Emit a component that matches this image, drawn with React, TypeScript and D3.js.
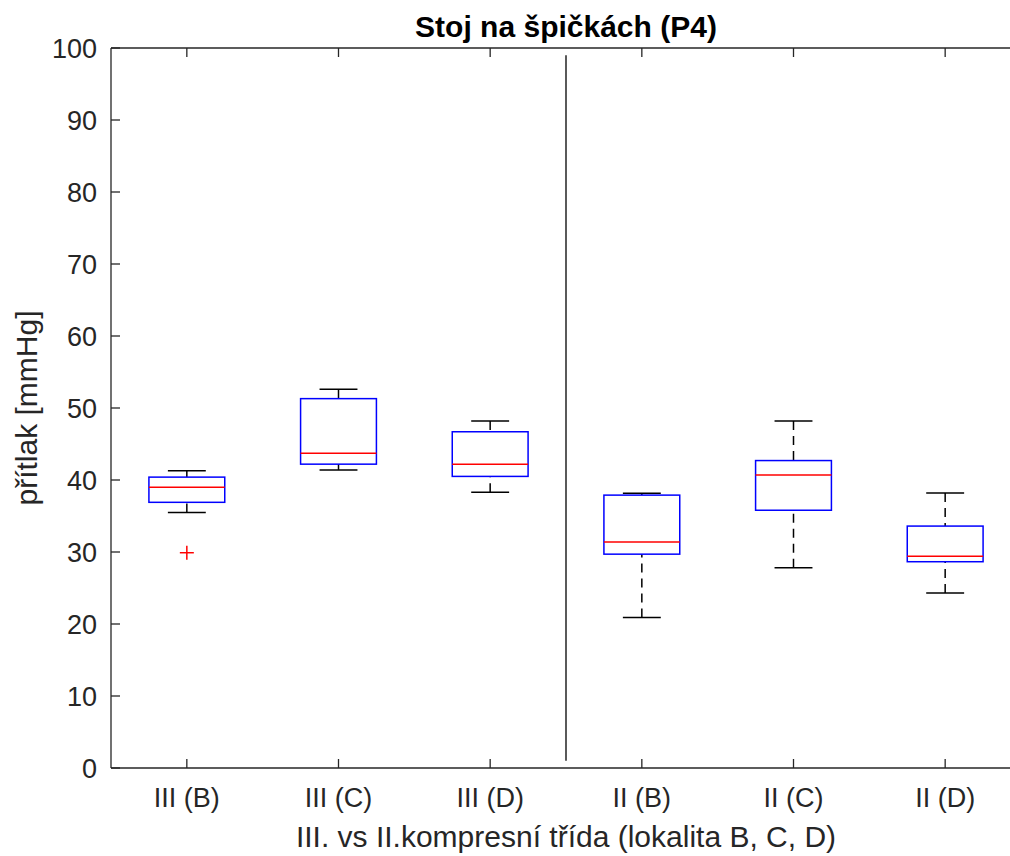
import React from "react";
import * as d3 from "d3";

const categories = ["III (B)", "III (C)", "III (D)", "II (B)", "II (C)", "II (D)"];
const whiskerLow = [35.5, 41.4, 38.3, 20.9, 27.8, 24.3];
const q1 = [36.9, 42.2, 40.5, 29.7, 35.8, 28.65];
const medians = [39.0, 43.7, 42.2, 31.4, 40.7, 29.4];
const q3 = [40.4, 51.3, 46.7, 37.9, 42.7, 33.6];
const whiskerHigh = [41.3, 52.6, 48.2, 38.15, 48.2, 38.2];
const outlierCategory = ["III (B)"];
const outlierValue = [29.9];
const yTicks = [0, 10, 20, 30, 40, 50, 60, 70, 80, 90, 100];
const separatorPos = 3.5;
const separatorRange = [1, 99];

const W = 1010;
const H = 856;
const FONT = "'Liberation Sans', Arial, Helvetica, sans-serif";
const TXT = "#262626";

export default function App() {
  const x = d3.scaleLinear().domain([0.5, 6.5]).range([111, 1021]);
  const y = d3.scaleLinear().domain([0, 100]).range([768, 48]);
  const unit = x(1) - x(0);
  const boxHalf = 0.25 * unit;
  const capHalf = 0.125 * unit;
  const tickLen = 9;
  const [x0, x1] = x.range();
  const [yb, yt] = y.range();

  return (
    <div style={{ position: "absolute", left: 0, top: 0 }}>
      <svg width={W} height={H} style={{ display: "block", background: "#fff" }}>
        <rect x={0} y={0} width={W} height={H} fill="#fff" />
        {/* separator */}
        <line
          x1={x(separatorPos)}
          x2={x(separatorPos)}
          y1={y(separatorRange[0])}
          y2={y(separatorRange[1])}
          stroke="#000"
          strokeWidth={1.3}
        />
        {/* boxes */}
        {categories.map((c, i) => {
          const cx = x(i + 1);
          return (
            <g key={c}>
              <line x1={cx} x2={cx} y1={y(whiskerHigh[i])} y2={y(q3[i])} stroke="#000" strokeWidth={1.5} strokeDasharray="9,6" />
              <line x1={cx} x2={cx} y1={y(whiskerLow[i])} y2={y(q1[i])} stroke="#000" strokeWidth={1.5} strokeDasharray="9,6" />
              <line x1={cx - capHalf} x2={cx + capHalf} y1={y(whiskerHigh[i])} y2={y(whiskerHigh[i])} stroke="#000" strokeWidth={1.5} />
              <line x1={cx - capHalf} x2={cx + capHalf} y1={y(whiskerLow[i])} y2={y(whiskerLow[i])} stroke="#000" strokeWidth={1.5} />
              <rect
                x={cx - boxHalf}
                y={y(q3[i])}
                width={2 * boxHalf}
                height={y(q1[i]) - y(q3[i])}
                fill="none"
                stroke="#0000ff"
                strokeWidth={1.5}
              />
              <line x1={cx - boxHalf} x2={cx + boxHalf} y1={y(medians[i])} y2={y(medians[i])} stroke="#ff0000" strokeWidth={1.5} />
            </g>
          );
        })}
        {outlierCategory.map((c, k) => {
          const cx = x(categories.indexOf(c) + 1);
          const cy = y(outlierValue[k]);
          const s = 7;
          return (
            <g key={"o" + k} stroke="#ff0000" strokeWidth={1.5}>
              <line x1={cx - s} x2={cx + s} y1={cy} y2={cy} />
              <line x1={cx} x2={cx} y1={cy - s} y2={cy + s} />
            </g>
          );
        })}
        {/* axes frame */}
        <g stroke={TXT} strokeWidth={1.3} fill="none">
          <line x1={x0} x2={x1} y1={yb} y2={yb} />
          <line x1={x0} x2={x1} y1={yt} y2={yt} />
          <line x1={x0} x2={x0} y1={yb} y2={yt} />
          <line x1={x1} x2={x1} y1={yb} y2={yt} />
          {yTicks.map((t) => (
            <g key={"yt" + t}>
              <line x1={x0} x2={x0 + tickLen} y1={y(t)} y2={y(t)} />
              <line x1={x1} x2={x1 - tickLen} y1={y(t)} y2={y(t)} />
            </g>
          ))}
          {categories.map((c, i) => (
            <g key={"xt" + c}>
              <line x1={x(i + 1)} x2={x(i + 1)} y1={yb} y2={yb - tickLen} />
              <line x1={x(i + 1)} x2={x(i + 1)} y1={yt} y2={yt + tickLen} />
            </g>
          ))}
        </g>
        {/* tick labels */}
        {yTicks.map((t) => (
          <text key={"yl" + t} x={x0 - 14} y={y(t)} dy="0.36em" textAnchor="end" fontFamily={FONT} fontSize={27} fill={TXT}>
            {t}
          </text>
        ))}
        {categories.map((c, i) => (
          <text key={"xl" + c} x={x(i + 1)} y={807} textAnchor="middle" fontFamily={FONT} fontSize={27} fill={TXT}>
            {c}
          </text>
        ))}
        <text x={(x0 + x1) / 2} y={847} textAnchor="middle" fontFamily={FONT} fontSize={30} fill={TXT}>
          III. vs II.kompresní třída (lokalita B, C, D)
        </text>
        <text
          transform={`translate(37, ${(yb + yt) / 2}) rotate(-90)`}
          textAnchor="middle"
          fontFamily={FONT}
          fontSize={30}
          fill={TXT}
        >
          přítlak [mmHg]
        </text>
        <text x={(x0 + x1) / 2} y={37} textAnchor="middle" fontFamily={FONT} fontSize={30} fontWeight="bold" fill="#000">
          Stoj na špičkách (P4)
        </text>
      </svg>
    </div>
  );
}
